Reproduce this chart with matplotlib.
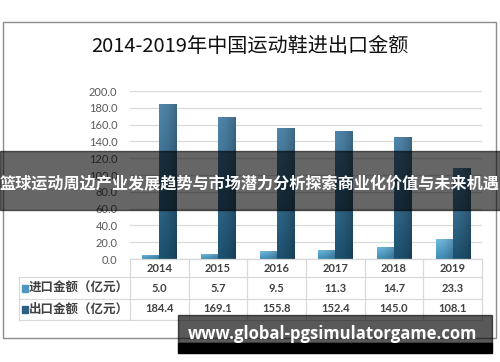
import matplotlib
matplotlib.use("Agg")
import matplotlib.pyplot as plt
import numpy as np
from matplotlib.patches import Rectangle

plt.rcParams['font.family'] = ['Lato', 'Noto Sans CJK SC', 'DejaVu Sans']

years = ["2014", "2015", "2016", "2017", "2018", "2019"]
imports = [5.0, 5.7, 9.5, 11.3, 14.7, 23.3]
exports = [184.4, 169.1, 155.8, 152.4, 145.0, 108.1]
series_names = ["进口金额（亿元）", "出口金额（亿元）"]
title = "2014-2019年中国运动鞋进出口金额"
banner = "篮球运动周边产业发展趋势与市场潜力分析探索商业化价值与未来机遇"
watermark = "www.global-pgsimulatorgame.com"
yticks = [0, 20, 40, 60, 80, 100, 120, 140, 160, 180, 200]

W, H = 500, 362
fig = plt.figure(figsize=(W / 100, H / 100), dpi=100)
fig.patch.set_facecolor("white")

def fx(x):
    return x / W

def fy(y):
    return 1 - y / H

# outer frame
fig.patches.append(Rectangle((fx(3), fy(338)), fx(493), (338 - 22) / H,
                             transform=fig.transFigure, fill=False,
                             edgecolor="#8c8c8c", lw=1.0, zorder=1))

fig.text(0.5, fy(47), title, ha="center", va="center", fontsize=14.5,
         family=["Noto Sans CJK SC"], weight="medium", color="#111111")

# main axes
left, right, top, bottom = 130, 482, 91, 259
ax = fig.add_axes([fx(left), fy(bottom), (right - left) / W, (bottom - top) / H])
ax.set_facecolor("none")
ax.set_xlim(-0.5, len(years) - 0.5)
ax.set_ylim(0, 200)
ax.set_yticks(yticks)
ax.set_yticklabels([f"{v:.1f}" for v in yticks], fontsize=8, color="#595959")
ax.tick_params(axis="y", length=0, pad=9)
ax.set_xticks([])
for s in ax.spines.values():
    s.set_visible(False)
ax.grid(axis="y", color="#d9d9d9", lw=0.9)
ax.set_axisbelow(True)

x = np.arange(len(years))
bw = 0.29
b1 = ax.bar(x - 0.145, imports, bw, color="#4f97bf", zorder=2)
b2 = ax.bar(x + 0.145, exports, bw, color="#34678a", zorder=2)

def grad(bars, c_top, c_bot):
    ct = np.array(matplotlib.colors.to_rgb(c_top))
    cb = np.array(matplotlib.colors.to_rgb(c_bot))
    hh = np.linspace(0, 1, 64)[:, None]
    ww = np.linspace(0, 1, 16)[None, :]
    for b in bars:
        xx, yy = b.get_x(), b.get_y()
        w, h = b.get_width(), b.get_height()
        t = hh * np.ones_like(ww)
        shade = 1 - 0.18 * (ww ** 2) + 0.05 * (1 - ww)
        img = (cb[None, None, :] * (1 - t[..., None]) + ct[None, None, :] * t[..., None]) * shade[..., None]
        img = np.clip(img, 0, 1)
        im = ax.imshow(img, extent=[xx, xx + w, yy, yy + h], origin="lower",
                       aspect="auto", zorder=2.5)
        im.set_clip_path(b)
        b.set_edgecolor("#2a4f66")
        b.set_linewidth(0.4)

grad(b1, "#6cb1d6", "#3c86ad")
grad(b2, "#4c7fa1", "#1b4d6a")
ax.set_xlim(-0.5, len(years) - 0.5)
ax.set_ylim(0, 200)

# table
lc = "#d9d9d9"
def hline(y, x0, x1):
    fig.add_artist(plt.Line2D([fx(x0), fx(x1)], [fy(y), fy(y)], color=lc, lw=0.9))
def vline(x0, y0, y1):
    fig.add_artist(plt.Line2D([fx(x0), fx(x0)], [fy(y0), fy(y1)], color=lc, lw=0.9))

col_w = (right - left) / len(years)
hline(259, left, right)
hline(277, 19, right)
hline(299, 19, right)
hline(320, 19, right)
for i in range(len(years) + 1):
    vline(left + i * col_w, 259, 320)
vline(19, 277, 320)

tc = "#404040"
for i, yr in enumerate(years):
    cx = left + (i + 0.5) * col_w
    fig.text(fx(cx), fy(268), yr, ha="center", va="center", fontsize=8, color=tc, weight="bold")
    fig.text(fx(cx), fy(288), f"{imports[i]:.1f}", ha="center", va="center", fontsize=8, color=tc, weight="bold")
    fig.text(fx(cx), fy(309), f"{exports[i]:.1f}", ha="center", va="center", fontsize=8, color=tc, weight="bold")

for name, yc, col in [(series_names[0], 288, "#4f97bf"), (series_names[1], 309, "#2f5f80")]:
    fig.patches.append(Rectangle((fx(22), fy(yc + 3.5)), 6 / W, 7 / H,
                                 transform=fig.transFigure, color=col, zorder=3))
    fig.text(fx(29), fy(yc), name, ha="left", va="center", fontsize=9,
             color=tc, weight="bold", family=["Noto Sans CJK SC"])

# banner overlay
fig.patches.append(Rectangle((0, fy(210)), 1, (210 - 151) / H, transform=fig.transFigure,
                             color="black", alpha=0.6, zorder=10))
fig.text(0.5, fy(184), banner, ha="center", va="center", fontsize=11.6, color="white",
         weight="bold", family=["Noto Sans CJK SC"], zorder=11)

# watermark
fig.patches.append(Rectangle((fx(178), fy(343)), (492 - 178) / W, (343 - 315) / H,
                             transform=fig.transFigure, color="black", alpha=0.65, zorder=10))
fig.patches.append(Rectangle((fx(178), fy(353)), (492 - 178) / W, (353 - 343) / H,
                             transform=fig.transFigure, color="black", zorder=10))
fig.text(fx(333), fy(334), watermark, ha="center", va="center", fontsize=12, color="white",
         weight="bold", family=["Open Sans"], zorder=11)

fig.savefig("out.png", dpi=100)
